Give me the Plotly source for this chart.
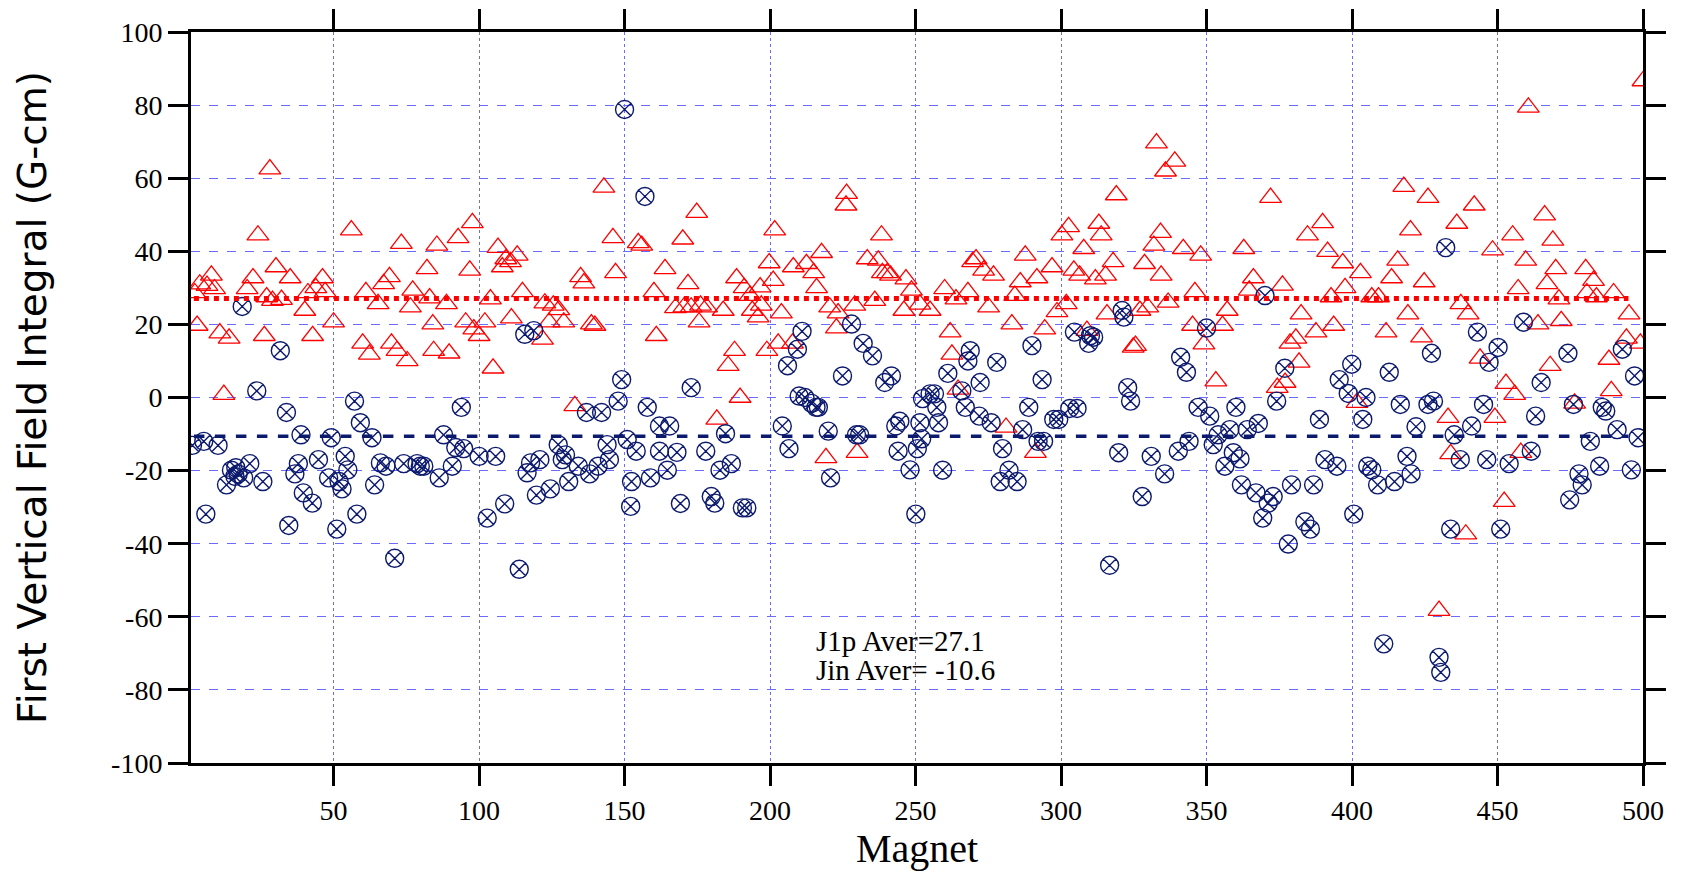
#### Load Libraries ####
import plotly.graph_objects as go

#### Data ####
# J1p (red open triangles)
j1p_x = [2.3, 3.1, 4.0, 6.5, 8.0, 9.1, 10.9, 12.3, 14.1, 20.3, 22.3, 24.0, 26.2, 27.0, 28.1, 29.0,
         30.2, 32.1, 35.1, 40.1, 41.2, 42.8, 43.9, 46.2, 47.1, 50.0, 56.1, 60.0, 61.1, 62.3, 65.3,
         67.2, 69.2, 69.9, 71.8, 73.3, 75.3, 76.4, 77.2, 82.1, 83.0, 84.1, 84.4, 85.5, 88.8, 89.7,
         92.8, 95.4, 96.8, 97.7, 98.2, 100.0, 102.0, 103.9, 104.8, 106.5, 108.0, 109.2, 110.8,
         111.1, 113.1, 114.9, 121.8, 122.6, 124.1, 125.5, 127.4, 129.1, 132.9, 134.9, 136.0,
         138.6, 139.8, 142.9, 146.0, 146.9, 154.7, 155.9, 160.1, 160.9, 163.9, 167.5, 170.0,
         170.4, 171.8, 172.9, 174.8, 175.6, 176.1, 178.2, 181.7, 183.9, 185.6, 187.8, 188.5,
         189.7, 191.1, 193.1, 193.9, 195.9, 196.6, 197.0, 198.9, 199.7, 201.1, 201.6, 202.8,
         203.9, 207.7, 208.0, 212.5, 215.0, 216.0, 217.7, 219.2, 220.5, 222.8, 223.4, 226.1,
         226.3, 229.1, 229.9, 233.4, 236.0, 237.2, 238.3, 238.6, 240.3, 241.4, 246.0, 246.7,
         248.6, 251.5, 255.0, 260.0, 261.9, 262.5, 263.9, 264.6, 268.0, 269.6, 270.8, 273.4,
         275.1, 276.8, 281.1, 283.1, 284.1, 286.0, 287.7, 291.2, 291.7, 294.4, 296.9, 298.6,
         300.3, 301.8, 302.6, 304.4, 306.4, 307.8, 308.9, 311.8, 313.0, 313.8, 315.3, 315.8,
         317.9, 319.0, 324.8, 325.6, 327.1, 328.7, 329.8, 331.9, 332.8, 334.2, 334.4, 335.9,
         336.8, 339.1, 342.0, 345.2, 346.0, 348.0, 349.1, 353.2, 355.5, 357.1, 362.8, 364.7,
         366.1, 372.0, 374.3, 376.1, 377.0, 378.7, 380.7, 381.8, 382.5, 384.7, 387.6, 389.9,
         391.6, 392.8, 393.7, 396.8, 397.6, 401.7, 402.9, 406.8, 409.1, 411.7, 413.6, 415.7,
         417.8, 419.2, 420.1, 423.9, 424.8, 426.1, 429.9, 433.0, 433.9, 436.0, 437.4, 439.1,
         439.9, 442.0, 444.0, 448.3, 449.1, 452.3, 452.9, 455.2, 455.9, 457.1, 458.0, 459.7,
         460.6, 463.9, 466.2, 467.0, 468.1, 469.0, 470.0, 471.1, 471.9, 476.5, 480.3, 480.7,
         483.0, 484.0, 488.3, 489.1, 489.9, 494.3, 495.2, 499.1, 500.0]
j1p_y = [28.6, 19.7, 31.0, 30.6, 33.4, 29.7, 17.6, 0.8, 16.2, 29.7, 32.7, 44.4, 16.9, 27.5, 62.5, 26.5,
         35.7, 26.8, 32.7, 23.8, 28.6, 16.9, 30.0, 32.7, 28.9, 20.6, 45.8, 14.8, 28.9, 11.8, 25.6,
         31.1, 33.0, 14.8, 12.8, 42.1, 10.0, 24.7, 29.3, 35.2, 27.2, 20.1, 12.8, 41.6, 25.6, 12.1,
         43.7, 20.6, 34.8, 47.8, 18.7, 16.9, 20.6, 26.9, 8.0, 41.0, 35.7, 37.9, 37.1,
         21.7, 38.9, 28.9, 15.9, 25.8, 20.6, 25.2, 24.0, 20.6, -2.3, 33.0, 31.3,
         20.1, 19.7, 57.5, 43.7, 34.1, 42.3, 41.6, 28.9, 16.9, 35.2, 24.5, 43.3,
         24.7, 31.1, 24.7, 50.6, 20.6, 25.2, 24.7, -6.0, 23.8, 8.7, 12.8, 32.7,
         0.0, 30.0, 27.9, 23.8, 22.0, 30.2, 25.2, 12.8, 36.8, 32.0, 45.8, 14.8,
         23.1, 14.8, 35.7, 36.6, 34.1, 30.0, 39.6, -16.5, 24.7, 19.0, 23.1, 52.6,
         55.8, 25.2, -15.1, 37.9, 26.5, 37.5, 44.4, 34.1, 34.1, 33.4, 23.8, 32.4,
         29.3, 25.5, 23.8, 29.7, 17.9, 11.8, 26.9, 2.2, 28.9, 37.1, 37.9, 34.8,
         24.7, 33.4, -8.2, 20.1, 27.9, 31.6, 38.9, -15.1, 32.7, 18.7, 35.7, 23.4,
         44.4, 25.6, 46.7, 34.8, 33.4, 40.7, 18.3, 32.4, 47.6, 44.4, 33.4, 22.8,
         37.1, 55.4, 13.7, 14.2, 23.8, 36.6, 24.7, 41.6, 69.6, 45.1, 33.4, 61.9,
         26.0, 64.6, 40.7, 19.7, 28.9, 38.9, 14.6, 4.5, 19.7, 23.8, 40.7, 29.3,
         32.7, 54.7, 2.7, 30.7, 4.1, 14.8, 16.2, 9.6, 22.8, 44.4, 17.9, 47.8,
         39.9, 27.5, 19.7, 36.8, 30.0, -1.4, 34.1, 27.5, 27.5, 17.9, 32.7, 37.5,
         57.7, 22.8, 45.8, 16.5, 31.6, 54.7, -58.3, -5.5, -15.4, 47.6, 25.6, -37.4,
         22.8, 52.6, 10.7, 40.3, -5.5, -28.5, 3.8, 44.4, 0.8, 29.7, -15.1, 37.5,
         79.4, 20.1, 49.9, 31.1, 8.7, 43.0, 35.2, 26.9, 21.0, -1.6, 35.2, 28.6,
         32.0, 27.5, 10.4, 1.8, 28.6, 16.2, 22.8, 14.8, 86.6]

# Jin (navy open circles with x)
jin_x = [1.5, 5.4, 6.1, 10.3, 13.2, 14.9, 16.1, 16.4, 17.2, 18.6, 19.1, 21.2, 23.6, 25.7, 31.7, 33.8,
         34.6, 36.7, 37.9, 38.8, 39.6, 42.7, 44.8, 48.3, 49.2, 51.1, 51.9, 52.9, 54.0, 54.9, 57.2,
         58.0, 59.2, 63.2, 64.1, 66.1, 68.0, 71.0, 74.1, 78.7, 79.8, 81.0, 86.3, 87.8, 90.8, 92.0,
         93.9, 94.7, 100.0, 102.8, 105.7, 108.8, 113.8, 115.7, 116.5, 117.7, 118.8, 119.7, 120.9,
         124.5, 127.2, 128.6, 129.7, 130.8, 134.1, 136.9, 138.0, 140.9, 142.1, 144.0, 144.8,
         147.8, 149.0, 150.0, 150.9, 152.1, 152.4, 154.0, 157.0, 157.8, 158.9, 162.0, 162.0,
         164.7, 165.5, 168.0, 169.2, 172.9, 177.9, 179.8, 181.0, 182.8, 184.7, 186.7, 190.5,
         192.0, 204.2, 206.0, 206.5, 209.4, 210.0, 211.0, 212.0, 214.3, 215.8, 216.6, 220.0,
         220.8, 224.9, 228.0, 229.7, 230.8, 232.0, 235.2, 239.4, 241.7, 243.2, 244.0, 244.6,
         248.1, 250.1, 250.6, 251.5, 252.1, 252.4, 255.0, 256.5, 257.3, 257.9, 259.3, 261.1,
         265.9, 267.1, 268.0, 268.8, 271.9, 272.2, 276.0, 277.9, 279.1, 279.9, 282.1, 284.9,
         286.8, 288.9, 290.0, 292.1, 293.5, 294.0, 297.5, 299.2, 303.0, 304.6, 305.5, 309.5,
         310.1, 311.2, 316.7, 319.8, 321.0, 321.6, 322.9, 323.9, 327.9, 331.0, 335.6, 340.3,
         341.1, 343.1, 344.0, 347.1, 350.0, 351.1, 352.3, 354.0, 356.3, 358.0, 359.2, 360.1,
         361.5, 362.0, 364.0, 367.0, 367.8, 369.3, 370.1, 371.2, 372.9, 374.1, 376.9, 378.1,
         379.2, 383.8, 385.7, 386.8, 388.8, 390.7, 394.8, 395.6, 398.7, 399.9, 400.6, 403.7,
         404.8, 405.4, 406.8, 408.8, 410.9, 412.8, 414.6, 416.6, 418.9, 420.3, 422.0, 426.1,
         427.3, 428.0, 429.9, 430.5, 432.2, 433.9, 435.1, 437.2, 441.1, 443.1, 445.2, 446.3,
         447.1, 450.2, 451.1, 454.0, 458.9, 461.6, 463.1, 465.0, 474.2, 474.8, 476.1, 478.0,
         479.1, 481.9, 485.1, 486.0, 487.2, 491.1, 492.9, 496.0, 497.1, 498.3]
jin_y = [-13.1, -12.0, -31.9, -13.1, -23.9, -19.9, -21.6, -19.2, -20.9, 24.9, -22.0, -18.1, 1.8, -23.0,
         12.8, -4.1, -35.0, -20.9, -18.1, -10.2, -26.1, -28.9, -17.0, -22.0, -11.0, -36.0, -23.0,
         -25.0, -16.1, -19.8, -1.0, -31.9, -6.9, -11.0, -23.9, -17.9, -18.8, -44.0, -18.1, -18.1,
         -18.8, -18.8, -22.0, -10.2, -18.8, -13.7, -2.7, -14.0, -16.1, -33.0, -16.1, -29.1, -47.0,
         17.3, -20.6, -17.9, 18.3, -26.7, -17.0, -25.0, -12.9, -17.0, -15.7, -23.0, -18.8, -4.1,
         -20.9, -18.8, -4.1, -12.9, -17.0, -1.0, 4.9, 78.8, -11.5, -29.8, -23.0, -14.7, 55.0,
         -2.7, -22.0, -7.8, -14.7, -19.9, -7.8, -15.0, -29.0, 2.7, -14.7, -27.1, -28.9, -19.9,
         -9.9, -18.1, -30.2, -30.2, -7.8, 8.7, -14.0, 13.2, 0.4, 18.1, 0.0, -1.6, -2.7, -2.7,
         -9.2, -22.0, 5.9, 20.1, -10.2, -10.2, 14.8, 11.4, 4.1, 5.9, -7.8, -14.7, -6.5, -19.8,
         -31.9, -14.0, -6.9, -11.3, -0.3, 1.0, 1.0, -2.7, -6.9, -19.9, 6.6, 1.8, -2.7, 10.0,
         12.8, -5.1, 4.1, -6.9, 9.6, -23.0, -14.0, -19.9, -23.0, -8.8, -2.7, 14.2, -12.0, 4.9,
         -12.0, -6.0, -6.0, -3.0, 17.9, -3.0, 14.8, 16.9, 16.5, -45.9, -15.1, 23.8, 22.0, 2.7,
         -1.0, -27.1, -16.1, -20.9, -14.7, 11.0, 6.9, -12.0, -2.7, 19.0, -5.1, -12.9, -10.2,
         -18.8, -8.8, -15.1, -2.7, -16.8, -23.9, -8.8, -26.1, -7.1, -33.0, 27.9, -28.9, -27.1,
         -1.0, 8.0, -40.1, -23.9, -34.0, -36.0, -23.9, -6.0, -17.0, -18.8, 4.9, 1.1, 9.1, -31.9,
         -6.0, 0.0, -18.8, -19.8, -23.9, -67.4, 6.9, -23.0, -1.9, -16.1, -20.9, -8.0, -1.9, 12.1,
         -1.0, -71.1, -75.2, 41.0, -36.0, -10.2, -17.0, -7.8, 17.9, -1.9, -17.0, 9.6, 13.7, -36.0,
         -18.1, 20.6, -14.7, -5.1, 4.1, 12.1, -28.0, -1.9, -20.9, -23.9, -12.0, -18.8, -2.7, -3.7,
         -8.8, 13.2, -19.8, 5.9, -11.0]

# averages
j1p_aver = 27.1
jin_aver = -10.6
aver_x = [2, 495]

x_ticks = [50, 100, 150, 200, 250, 300, 350, 400, 450, 500]
y_ticks = [-100, -80, -60, -40, -20, 0, 20, 40, 60, 80, 100]
y_ticktext = [str(v) for v in y_ticks]  # plain hyphen minus, like the original

red = "#ff0000"
navy = "#0c1a6e"
serif = "Liberation Serif"

#### Build Figure ####
fig = go.Figure()

fig.add_trace(go.Scatter(
    x=j1p_x, y=j1p_y, mode="markers", name="J1p",
    marker=dict(symbol="triangle-up-open", size=19, color=red, line=dict(width=1.3, color=red)),
))
fig.add_trace(go.Scatter(
    x=jin_x, y=jin_y, mode="markers", name="Jin",
    marker=dict(symbol="circle-x-open", size=18, color=navy, line=dict(width=1.4, color=navy)),
))

# average lines
fig.add_trace(go.Scatter(
    x=aver_x, y=[j1p_aver] * 2, mode="lines",
    line=dict(color=red, width=5, dash="dot"),
))
fig.add_trace(go.Scatter(
    x=aver_x, y=[jin_aver] * 2, mode="lines",
    line=dict(color=navy, width=3.5, dash="dash"),
))

fig.add_annotation(
    x=215, y=-66.6, xref="x", yref="y", xanchor="left", yanchor="middle",
    text="J1p Aver=%.1f" % j1p_aver, showarrow=False,
    font=dict(family=serif, size=29, color="black"),
)
fig.add_annotation(
    x=215, y=-74.6, xref="x", yref="y", xanchor="left", yanchor="middle",
    text="Jin Aver= %.1f" % jin_aver, showarrow=False,
    font=dict(family=serif, size=29, color="black"),
)

axis_common = dict(
    showline=True, linecolor="black", linewidth=3, mirror="ticks",
    ticks="outside", ticklen=20, tickwidth=3, tickcolor="black",
    gridcolor="#6b6bff", gridwidth=1, zeroline=False, automargin=False,
    tickfont=dict(family=serif, size=28, color="black"),
)

# page body has an 8px margin, so the figure is shifted 8px right and down
fig.update_layout(
    width=1665, height=863,
    paper_bgcolor="white", plot_bgcolor="white",
    showlegend=False,
    margin=dict(l=183, r=30, t=24, b=108, autoexpand=False),
    xaxis=dict(
        range=[1, 500], tickvals=x_ticks, griddash="dot",
        title=dict(text="Magnet", font=dict(family=serif, size=40, color="black"), standoff=16),
        **axis_common,
    ),
    yaxis=dict(
        range=[-100, 100], tickvals=y_ticks, ticktext=y_ticktext, griddash="dash",
        title=dict(text="First Vertical Field Integral (G-cm)",
                   font=dict(family="DejaVu Sans", size=39, color="black"), standoff=53),
        **axis_common,
    ),
)

fig.write_html("out.html")
